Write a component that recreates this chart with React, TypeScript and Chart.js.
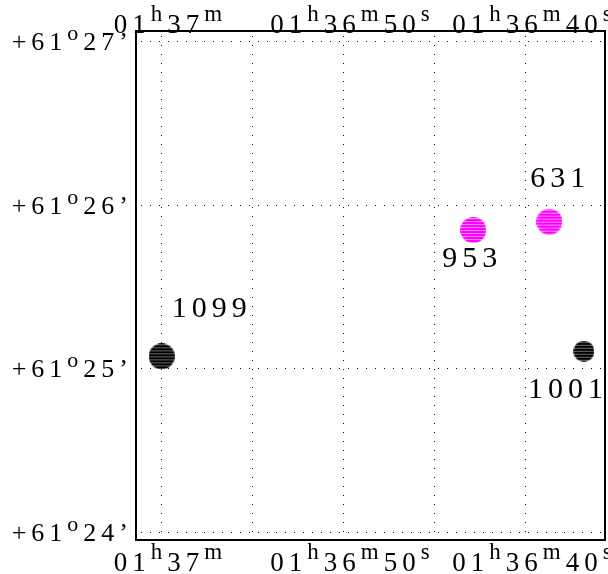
import React, { useEffect, useRef } from 'react';
import { Chart, registerables } from 'chart.js';

Chart.register(...registerables);

// ---- data ----
const STAR_IDS = ['1099', '953', '631', '1001'];
// right ascension: seconds after 01h36m
const RA_SEC = [59.96, 42.84, 38.66, 36.76];
// declination: arcminutes after +61°
const DEC_MIN = [25.073, 25.845, 25.896, 25.104];
const STAR_GROUP = ['black', 'magenta', 'magenta', 'black'];

const RA_TICKS = [60, 55, 50, 45, 40];
const RA_TICK_LABELS = ['01h37m', '', '01h36m50s', '', '01h36m40s'];
const DEC_TICKS = [27, 26, 25, 24];
const DEC_TICK_LABELS = ['+61°27’', '+61°26’', '+61°25’', '+61°24’'];

const RA_MIN = 35.6;
const RA_MAX = 61.374;
const DEC_LOW = 23.951;
const DEC_HIGH = 27.061;

// ---- style ----
const FONT = '"Liberation Serif", "Times New Roman", serif';
const POINT_RADII = [13, 13, 13, 10.5];
const LABEL_OFFSETS: [number, number][] = [
  [10, -39],
  [-31, 37],
  [-19, -35],
  [-56, 47],
];
const GROUP_COLORS: Record<string, [string, string]> = {
  black: ['#000000', '#6a6a6a'],
  magenta: ['#ff00ff', '#ff8cff'],
};

function makeDot(r: number, fill: string, stripe: string): HTMLCanvasElement {
  const size = Math.round(r * 2);
  const c = document.createElement('canvas');
  c.width = size;
  c.height = size;
  const g = c.getContext('2d')!;
  g.fillStyle = fill;
  g.beginPath();
  g.arc(size / 2, size / 2, size / 2, 0, Math.PI * 2);
  g.fill();
  g.globalCompositeOperation = 'source-atop';
  g.fillStyle = stripe;
  for (let yy = 1; yy < size; yy += 3) g.fillRect(0, yy, size, 1);
  return c;
}

function drawRich(
  ctx: CanvasRenderingContext2D,
  text: string,
  x: number,
  baseline: number,
  align: 'left' | 'center' | 'right',
  size: number,
  supSize: number,
  raise: number,
  ls: number
) {
  const parts = Array.from(text).map((ch) => ({
    ch: ch === '°' ? 'o' : ch,
    sup: 'hms°'.includes(ch),
  }));
  const widths = parts.map((p) => {
    ctx.font = `${p.sup ? supSize : size}px ${FONT}`;
    return ctx.measureText(p.ch).width;
  });
  const total = widths.reduce((s, w) => s + w, 0) + ls * (parts.length - 1);
  let cx = align === 'center' ? x - total / 2 : align === 'right' ? x - total : x;
  parts.forEach((p, i) => {
    ctx.font = `${p.sup ? supSize : size}px ${FONT}`;
    ctx.fillText(p.ch, cx, p.sup ? baseline - raise : baseline);
    cx += widths[i] + ls;
  });
}

const framePlugin = {
  id: 'skyframe',
  beforeDatasetsDraw(chart: any) {
    const { ctx, chartArea: a, scales } = chart;
    const xs = scales.x;
    const ys = scales.y;
    ctx.save();
    ctx.fillStyle = '#111';
    for (const v of RA_TICKS) {
      const px = Math.round(xs.getPixelForValue(v));
      for (let py = a.top + 5; py < a.bottom; py += 9) ctx.fillRect(px, py, 1, 1);
    }
    for (const v of DEC_TICKS) {
      const py = Math.round(ys.getPixelForValue(v));
      for (let px = a.left + 5; px < a.right; px += 9) ctx.fillRect(px, py, 1, 1);
    }
    ctx.restore();
  },
  afterDraw(chart: any) {
    const { ctx, chartArea: a, scales } = chart;
    const xs = scales.x;
    const ys = scales.y;
    ctx.save();
    ctx.strokeStyle = '#000';
    ctx.lineWidth = 2;
    ctx.strokeRect(a.left, a.top, a.right - a.left, a.bottom - a.top);

    ctx.fillStyle = '#000';
    ctx.textAlign = 'left';
    ctx.textBaseline = 'alphabetic';
    RA_TICKS.forEach((v, i) => {
      const label = RA_TICK_LABELS[i];
      if (!label) return;
      const px = xs.getPixelForValue(v) + 7;
      drawRich(ctx, label, px, a.top + 2, 'center', 27, 23, 12, 5);
      drawRich(ctx, label, px, a.bottom + 31, 'center', 27, 23, 12, 5);
    });
    DEC_TICKS.forEach((v, i) => {
      const py = ys.getPixelForValue(v);
      drawRich(ctx, DEC_TICK_LABELS[i], a.left - 8, py + 9, 'right', 26, 22, 10, 5);
    });

    const meta = chart.getDatasetMeta(0);
    meta.data.forEach((el: any, i: number) => {
      const [dx, dy] = LABEL_OFFSETS[i];
      drawRich(ctx, STAR_IDS[i], el.x + dx, el.y + dy, 'left', 30, 30, 0, 5);
    });
    ctx.restore();
  },
};

export default function App() {
  const ref = useRef<HTMLCanvasElement | null>(null);
  useEffect(() => {
    if (!ref.current) return;
    const styles = STAR_GROUP.map((g, i) =>
      makeDot(POINT_RADII[i], GROUP_COLORS[g][0], GROUP_COLORS[g][1])
    );
    const chart = new Chart(ref.current, {
      type: 'scatter',
      data: {
        datasets: [
          {
            data: RA_SEC.map((ra, i) => ({ x: ra, y: DEC_MIN[i] })),
            pointStyle: styles as any,
            pointRadius: POINT_RADII,
            backgroundColor: STAR_GROUP.map((g) => GROUP_COLORS[g][0]),
            borderWidth: 0,
          },
        ],
      },
      options: {
        responsive: false,
        animation: false,
        events: [],
        layout: { autoPadding: false, padding: { left: 136, top: 31, right: 3, bottom: 34 } },
        plugins: { legend: { display: false }, tooltip: { enabled: false } },
        scales: {
          x: { type: 'linear', display: false, reverse: true, min: RA_MIN, max: RA_MAX },
          y: { type: 'linear', display: false, min: DEC_LOW, max: DEC_HIGH },
        },
      },
      plugins: [framePlugin],
    });
    return () => chart.destroy();
  }, []);
  return (
    <div style={{ position: 'absolute', left: 0, top: 0, width: 608, height: 574, background: '#fff' }}>
      <canvas ref={ref} width={608} height={574} />
    </div>
  );
}
